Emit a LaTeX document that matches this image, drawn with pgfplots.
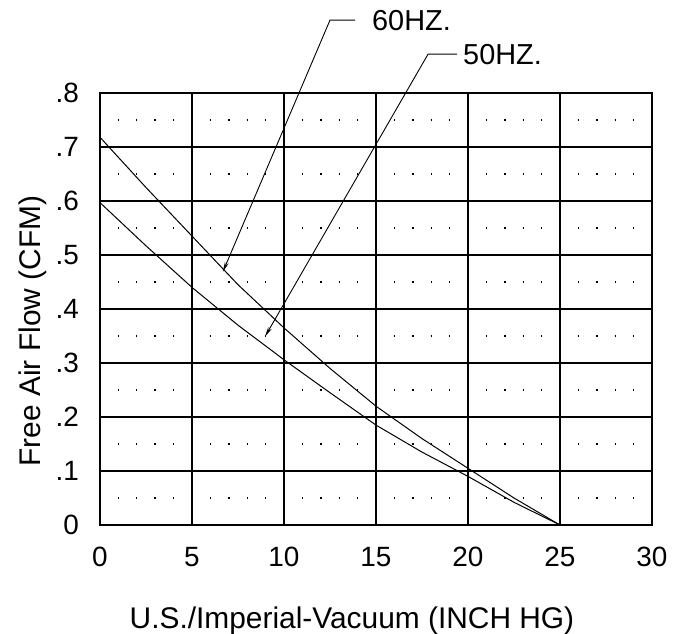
\documentclass[border=0pt]{standalone}
\usepackage{pgfplots}
\pgfplotsset{compat=1.18}
\usepackage{fontspec}
\setmainfont{Liberation Sans}
\usetikzlibrary{arrows.meta}

\begin{document}
\begin{tikzpicture}
\useasboundingbox (-100bp,-109bp) rectangle (580bp,525bp);
\begin{axis}[
    scale only axis,
    width=552bp, height=432bp,
    xmin=0, xmax=30,
    ymin=0, ymax=0.8,
    xtick={0,5,10,15,20,25,30},
    xticklabels={0,5,10,15,20,25,30},
    ytick={0,0.1,0.2,0.3,0.4,0.5,0.6,0.7,0.8},
    yticklabels={0,.1,.2,.3,.4,.5,.6,.7,.8},
    minor ytick={0.05,0.15,0.25,0.35,0.45,0.55,0.65,0.75},
    major tick length=0pt, minor tick length=0pt,
    xmajorgrids=true, ymajorgrids=true, yminorgrids=true,
    major grid style={black, line width=1.2bp},
    minor grid style={black, line width=1.4bp, dash pattern=on 1.4bp off 17bp, dash phase=0.7bp},
    axis line style={black, line width=1.2bp},
    tick label style={font=\fontsize{28}{30}\selectfont, inner sep=0pt},
    xticklabel style={anchor=center, yshift=-32bp},
    yticklabel style={anchor=east, xshift=-21bp},
    xlabel={U.S./Imperial-Vacuum (INCH HG)},
    ylabel={Free Air Flow (CFM)},
    label style={font=\fontsize{30}{32}\selectfont},
    xlabel style={at={(axis description cs:0.4565,-0.222)}, anchor=center},
    ylabel style={at={(axis description cs:-0.121,0.449)}, anchor=center},
    clip=false,
]

% 60 Hz
\addplot[black, line width=1bp] coordinates {
    (0,0.718) (2.5,0.625) (5,0.535) (7.5,0.445) (10,0.365) (12.5,0.29)
    (15,0.22) (17.5,0.16) (20,0.105) (22.5,0.05) (25,0)
};

% 50 Hz
\addplot[black, line width=1bp] coordinates {
    (0,0.597) (2.5,0.517) (5,0.44) (7.5,0.37) (10,0.306) (12.5,0.245)
    (15,0.185) (17.5,0.135) (20,0.09) (22.5,0.042) (25,0)
};

\draw[black, line width=0.9bp, -{Stealth[length=10bp,width=4bp]}]
    (13.86,0.935) -- (12.5,0.935) -- (6.68,0.469);
\node[anchor=west, inner sep=0pt, font=\fontsize{29}{31}\selectfont] at (14.78,0.935) {60HZ.};

\draw[black, line width=0.9bp, -{Stealth[length=10bp,width=4bp]}]
    (19.4,0.872) -- (17.83,0.872) -- (8.97,0.349);
\node[anchor=west, inner sep=0pt, font=\fontsize{29}{31}\selectfont] at (19.73,0.872) {50HZ.};

\end{axis}
\end{tikzpicture}
\end{document}
